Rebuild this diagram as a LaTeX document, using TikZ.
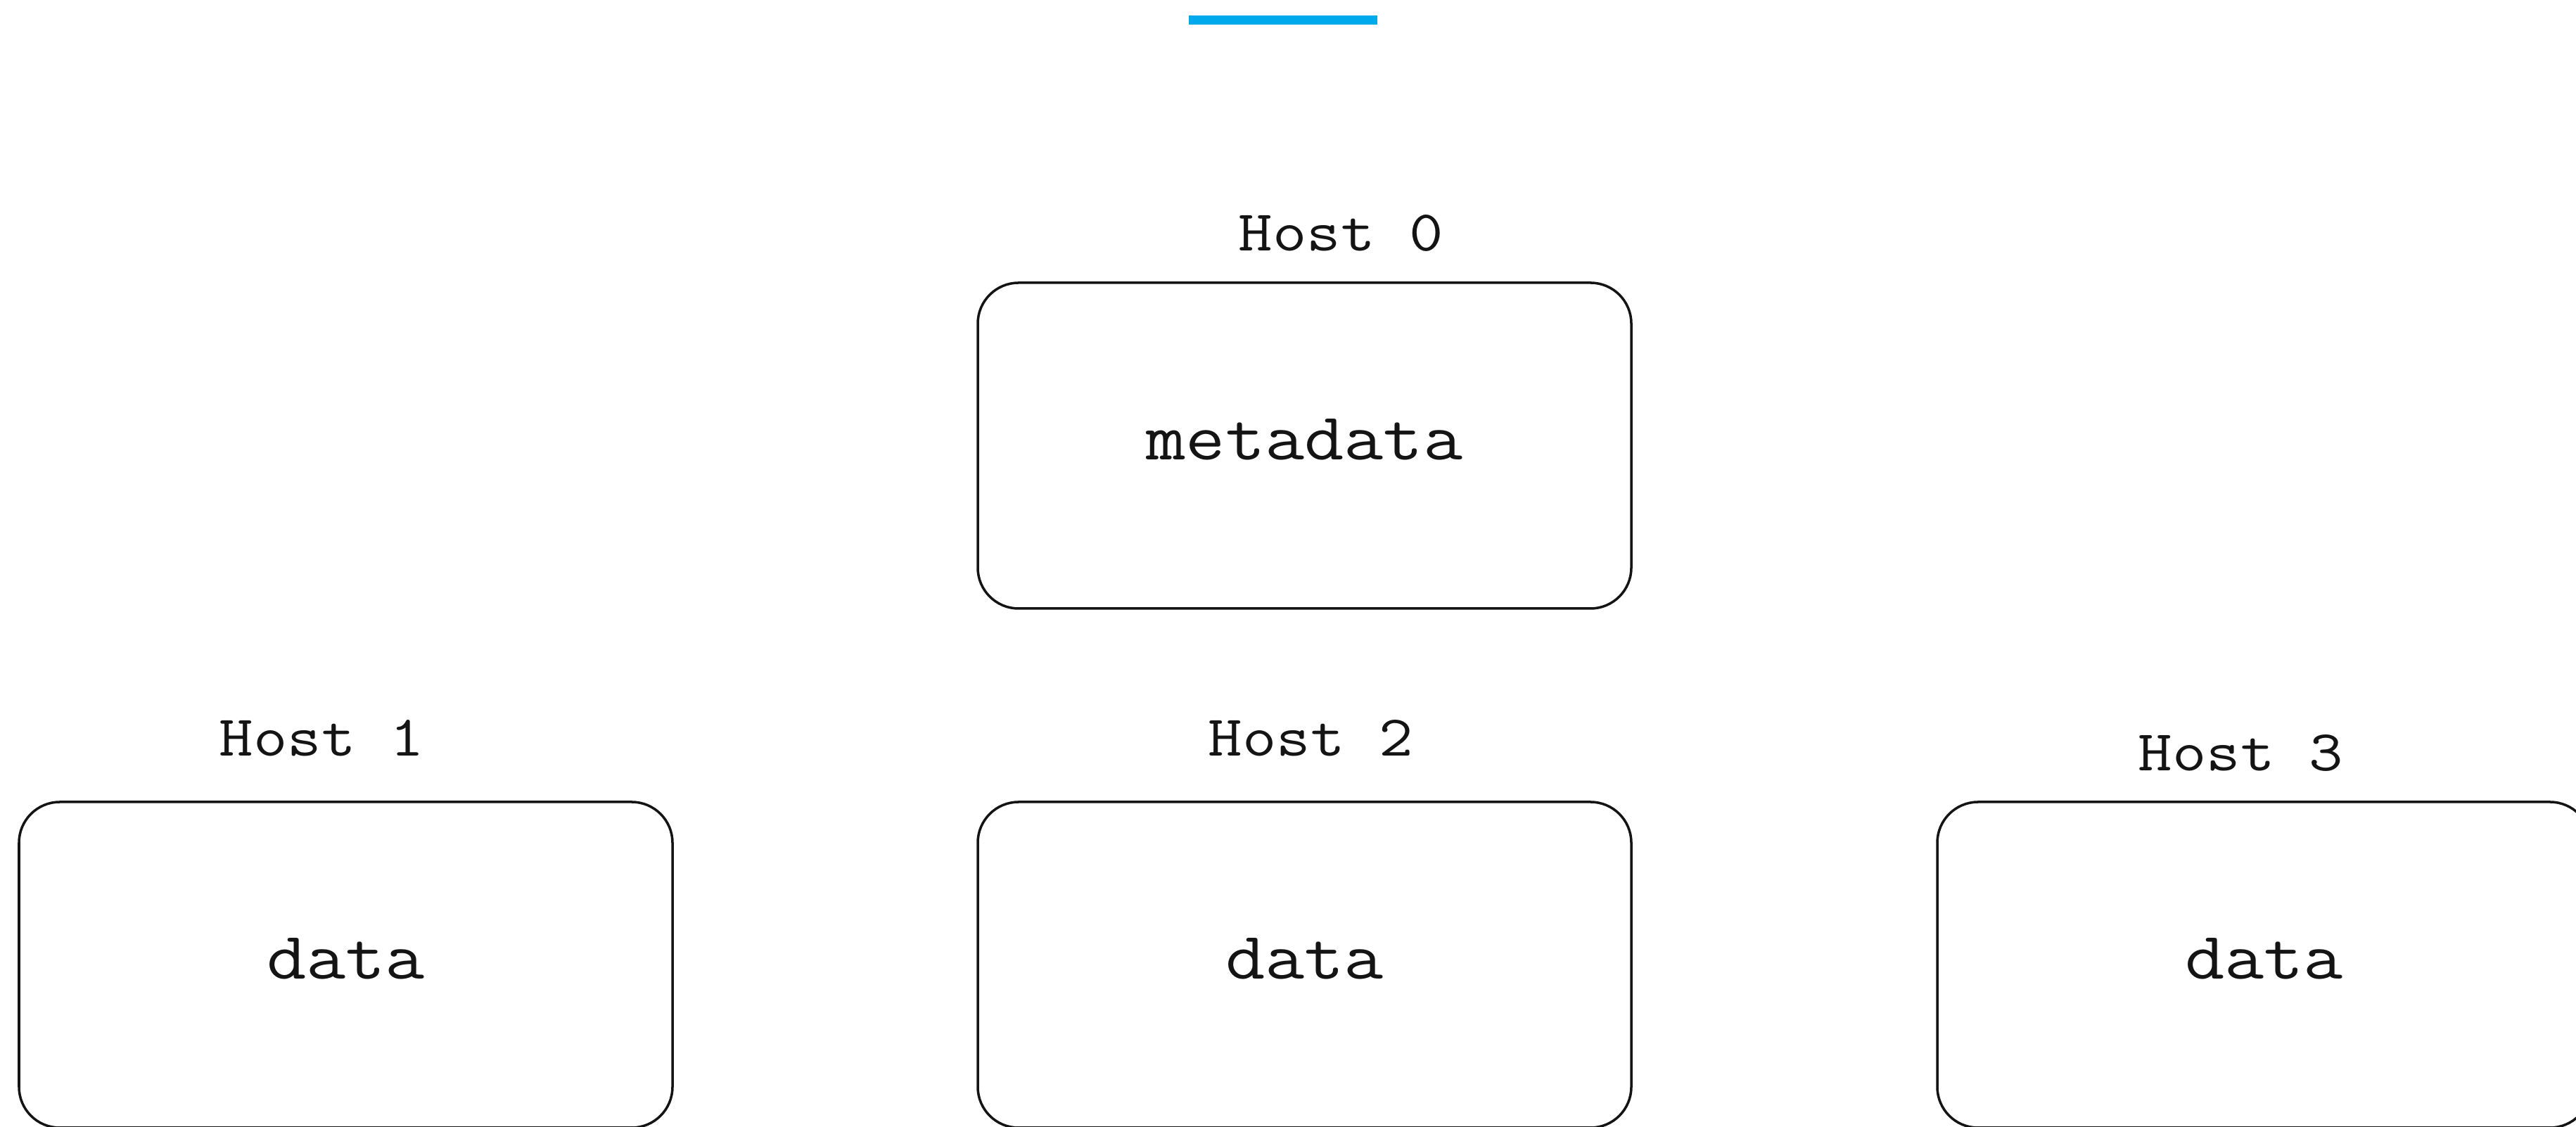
\documentclass[tikz,border=0pt]{standalone}
\usepackage{fontspec}
\newfontfamily\hostmono[FakeStretch=1.15]{Latin Modern Mono}
\definecolor{barblue}{RGB}{0,168,236}
\definecolor{edge}{RGB}{20,20,20}
\tikzset{
  hostbox/.style={draw=edge, line width=1pt, rounded corners=0.58cm,
    minimum width=9.29cm, minimum height=4.63cm, inner sep=0pt,
    text height=0.40cm, text depth=0pt,
    font=\hostmono\fontsize{27pt}{32pt}\selectfont, text=edge},
  hostname/.style={anchor=base, inner sep=0pt,
    font=\hostmono\fontsize{23.3pt}{28pt}\selectfont, text=edge},
}
\begin{document}
\begin{tikzpicture}
  \useasboundingbox (0,0) rectangle (36.62,16.02);
  \clip (0,0) rectangle (36.62,16.02);
  \fill[white] (0,0) rectangle (36.62,16.02);

  % accent bar at the top
  \fill[barblue] (16.90,15.67) rectangle (19.58,15.80);

  % metadata host
  \node[hostbox] (box0) at (18.545,9.685) {metadata};
  \node[hostname] (name0) at (19.06,12.45) {Host 0};

  % data hosts
  \node[hostbox] (box1) at (4.915,2.305) {data};
  \node[hostbox] (box2) at (18.545,2.305) {data};
  \node[hostbox] (box3) at (32.185,2.305) {data};
  \node[hostname] (name1) at (4.57,5.27) {Host 1};
  \node[hostname] (name2) at (18.63,5.27) {Host 2};
  \node[hostname] (name3) at (31.85,5.06) {Host 3};
\end{tikzpicture}
\end{document}
